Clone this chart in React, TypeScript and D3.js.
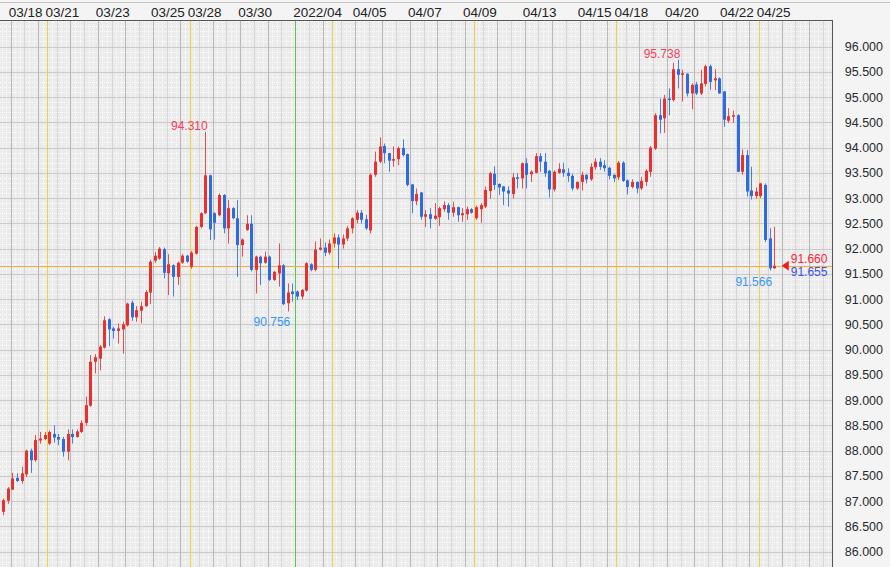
import * as d3 from 'd3';
import React, { FC, useEffect, useRef } from 'react';

// 4-hour candles, one slot per candle (31 slots per trading week)
const opens = [
  86.79, 87.01, 87.23, 87.46, 87.4, 87.53, 88.0, 87.81, 88.2, 88.23,
  88.14, 88.33, 88.27, 88.23, 87.98, 88.33, 88.27, 88.37, 88.55, 88.89,
  89.76, 89.82, 90.04, 90.6, 90.42, 90.37, 90.4, 90.48, 90.93, 90.64,
  90.77, 90.86, 91.13, 91.76, 91.8, 91.99, 91.51, 91.67, 91.44, 91.72,
  91.86, 91.64, 91.9, 92.43, 92.7, 93.45, 92.7, 92.66, 93.06, 92.4,
  92.8, 92.6, 92.07, 92.37, 92.49, 91.58, 91.84, 91.72, 91.84, 91.38,
  91.51, 91.67, 90.92, 91.15, 91.15, 91.05, 91.17, 91.69, 91.58, 91.98,
  92.02, 91.92, 92.1, 92.22, 92.08, 92.2, 92.4, 92.57, 92.71, 92.58,
  92.36, 93.46, 93.72, 94.03, 93.89, 93.74, 93.77, 93.99, 93.87, 93.27,
  92.94, 93.11, 92.63, 92.68, 92.59, 92.62, 92.78, 92.86, 92.71, 92.82,
  92.66, 92.68, 92.78, 92.6, 92.78, 92.83, 93.14, 93.48, 93.28, 93.23,
  93.15, 93.08, 93.41, 93.39, 93.69, 93.47, 93.5, 93.83, 93.72, 93.54,
  93.17, 93.5, 93.57, 93.5, 93.44, 93.19, 93.32, 93.46, 93.37, 93.61,
  93.72, 93.65, 93.6, 93.46, 93.41, 93.7, 93.35, 93.22, 93.32, 93.19,
  93.32, 93.52, 93.98, 94.64, 94.58, 94.97, 94.94, 95.55, 95.44, 95.46,
  95.07, 95.25, 95.07, 95.26, 95.61, 95.33, 95.37, 95.11, 94.53, 94.61,
  94.64, 93.52, 93.85, 93.15, 93.04, 93.04, 93.26, 92.2, 91.61
];
const highs = [
  87.05, 87.28, 87.56, 87.55, 87.68, 88.02, 88.04, 88.31, 88.37, 88.37,
  88.4, 88.5, 88.33, 88.27, 88.42, 88.42, 88.42, 88.6, 89.07, 89.89,
  89.91, 90.09, 90.66, 90.62, 90.45, 90.52, 90.55, 90.93, 90.97, 90.86,
  90.95, 91.18, 91.78, 91.93, 92.03, 92.02, 91.89, 91.69, 91.74, 91.89,
  91.88, 91.95, 92.45, 92.72, 94.31, 93.46, 92.72, 93.09, 93.08, 92.96,
  92.82, 92.96, 92.2, 92.66, 92.66, 91.86, 91.86, 91.94, 91.86, 91.56,
  92.1, 91.69, 91.31, 91.31, 91.17, 91.2, 91.73, 91.71, 92.14, 92.2,
  92.12, 92.18, 92.3, 92.28, 92.28, 92.45, 92.62, 92.76, 92.76, 92.67,
  93.49, 93.92, 94.2, 94.08, 93.89, 94.02, 94.02, 94.16, 93.88, 93.28,
  93.19, 93.12, 92.76, 92.8, 92.9, 92.83, 92.93, 92.9, 92.93, 92.83,
  92.8, 92.83, 92.8, 92.85, 92.9, 93.23, 93.52, 93.63, 93.29, 93.24,
  93.23, 93.49, 93.49, 93.7, 93.79, 93.55, 93.89, 93.89, 93.89, 93.56,
  93.55, 93.69, 93.7, 93.59, 93.48, 93.33, 93.52, 93.47, 93.69, 93.79,
  93.79, 93.75, 93.62, 93.47, 93.73, 93.73, 93.37, 93.37, 93.33, 93.42,
  93.57, 94.03, 94.68, 94.97, 95.04, 95.17, 95.68, 95.738, 95.54, 95.47,
  95.27, 95.3, 95.54, 95.64, 95.64, 95.55, 95.39, 95.12, 94.78, 94.73,
  94.66, 93.96, 93.95, 93.62, 93.21, 93.3, 93.29, 92.4, 92.43
];
const lows = [
  86.72, 86.95, 87.22, 87.38, 87.35, 87.48, 87.56, 87.78, 88.14, 88.21,
  88.11, 88.16, 88.11, 87.88, 87.81, 88.14, 88.26, 88.35, 88.5, 88.87,
  89.53, 89.59, 90.02, 90.07, 90.22, 90.12, 89.92, 90.46, 90.57, 90.55,
  90.52, 90.85, 90.9, 91.72, 91.78, 91.41, 91.08, 91.05, 91.28, 91.7,
  91.72, 91.6, 91.88, 92.4, 92.68, 92.17, 92.18, 92.64, 92.3, 92.1,
  92.58, 91.44, 91.84, 92.35, 91.55, 91.11, 91.28, 91.7, 91.36, 91.36,
  91.25, 90.88, 90.756, 90.95, 90.98, 91.0, 91.15, 91.55, 91.55, 91.96,
  91.85, 91.88, 92.02, 91.6, 92.0, 92.15, 92.3, 92.5, 92.5, 92.37,
  92.3, 93.42, 93.69, 93.69, 93.52, 93.62, 93.65, 93.82, 93.23, 92.7,
  92.86, 92.57, 92.43, 92.4, 92.57, 92.45, 92.73, 92.57, 92.63, 92.53,
  92.53, 92.57, 92.69, 92.57, 92.51, 92.8, 92.99, 93.16, 93.06, 92.86,
  92.83, 92.99, 93.19, 93.19, 93.19, 93.32, 93.49, 93.52, 93.42, 93.01,
  93.13, 93.48, 93.42, 93.32, 93.15, 93.16, 93.15, 93.29, 93.34, 93.56,
  93.56, 93.52, 93.37, 93.32, 93.36, 93.32, 93.07, 93.19, 93.09, 93.16,
  93.24, 93.42, 93.95, 94.28, 94.29, 94.64, 94.91, 95.17, 94.91, 95.01,
  94.76, 95.04, 95.04, 95.21, 95.14, 95.14, 95.07, 94.41, 94.49, 94.49,
  93.52, 93.46, 93.03, 92.97, 92.99, 93.0, 92.13, 91.566, 91.6
];
const closes = [
  87.02, 87.25, 87.45, 87.4, 87.55, 88.0, 87.81, 88.21, 88.24, 88.31,
  88.37, 88.26, 88.22, 87.98, 88.33, 88.27, 88.38, 88.55, 88.9, 89.76,
  89.85, 90.06, 90.58, 90.4, 90.37, 90.42, 90.5, 90.91, 90.64, 90.78,
  90.86, 91.14, 91.74, 91.86, 92.0, 91.52, 91.69, 91.44, 91.72, 91.86,
  91.74, 91.92, 92.43, 92.7, 93.45, 92.38, 92.51, 93.06, 92.4, 92.8,
  92.6, 92.07, 92.18, 92.49, 91.58, 91.84, 91.71, 91.84, 91.38, 91.54,
  91.67, 90.9, 91.13, 91.1, 91.05, 91.18, 91.71, 91.58, 91.98, 92.02,
  91.92, 92.1, 92.22, 92.08, 92.2, 92.4, 92.6, 92.71, 92.57, 92.4,
  93.46, 93.72, 94.02, 93.89, 93.74, 93.77, 93.99, 93.85, 93.26, 92.94,
  93.08, 92.63, 92.68, 92.59, 92.65, 92.8, 92.86, 92.71, 92.82, 92.66,
  92.7, 92.78, 92.71, 92.82, 92.86, 93.16, 93.49, 93.26, 93.21, 93.13,
  93.09, 93.41, 93.38, 93.69, 93.46, 93.52, 93.83, 93.72, 93.49, 93.17,
  93.52, 93.58, 93.5, 93.44, 93.19, 93.32, 93.46, 93.37, 93.62, 93.72,
  93.62, 93.59, 93.44, 93.39, 93.7, 93.34, 93.22, 93.32, 93.19, 93.34,
  93.54, 94.0, 94.64, 94.55, 94.97, 94.94, 95.55, 95.44, 95.47, 95.07,
  95.24, 95.07, 95.27, 95.61, 95.3, 95.37, 95.07, 94.55, 94.62, 94.64,
  93.52, 93.85, 93.13, 93.04, 93.13, 93.29, 92.17, 91.61, 91.66
];

const dateLabels = [
  '03/18', '03/21', '03/23', '03/25', '03/28', '03/30', '2022/04', '04/05',
  '04/07', '04/09', '04/13', '04/15', '04/18', '04/20', '04/22', '04/25'
];
const dateSlots = [2, 10, 21, 33, 41, 52, 64, 77, 89, 101, 114, 126, 134, 145, 157, 165];
const weekSlots = [10, 41, 72, 103, 134, 165];
const monthSlots = [64];
const priceTicks = [
  86, 86.5, 87, 87.5, 88, 88.5, 89, 89.5, 90, 90.5, 91,
  91.5, 92, 92.5, 93, 93.5, 94, 94.5, 95, 95.5, 96
];
const highMarks = [44, 147];
const lowMarks = [62, 167];
const askPrice = 91.66;
const bidPrice = 91.655;

const FONT = '"Liberation Sans", Arial, sans-serif';

const CandleChart: FC = (): JSX.Element => {
  const ref = useRef<SVGSVGElement>(null);

  const createChart = () => {
    const width = 890;
    const height = 567;
    const plotRight = 832;
    const plotTop = 20;

    const svg = d3.select(ref.current);
    svg.selectAll('*').remove();

    const x = d3.scaleLinear().domain([0, 181]).range([1.5, 832.1]);
    const y = d3.scaleLinear().domain([86, 96]).range([551.7, 46.5]);
    const cx = (i: number) => x(i + 0.5);
    const px = (d: number) => Math.round(x(d)) + 0.5;

    svg.append('rect').attr('width', width).attr('height', height).attr('fill', '#f4f4f4');
    svg
      .append('line')
      .attr('x1', 0)
      .attr('x2', width)
      .attr('y1', 2.5)
      .attr('y2', 2.5)
      .attr('stroke', '#c4c4c4');

    svg
      .append('defs')
      .append('clipPath')
      .attr('id', 'plot-clip')
      .append('rect')
      .attr('x', 0)
      .attr('y', plotTop)
      .attr('width', plotRight)
      .attr('height', height - plotTop);

    const g = svg.append('g').attr('clip-path', 'url(#plot-clip)');
    g.append('rect')
      .attr('x', 0)
      .attr('y', plotTop)
      .attr('width', plotRight)
      .attr('height', height - plotTop)
      .attr('fill', '#ebebeb');

    const vLines = (cls: string, data: number[], color: string) =>
      g
        .selectAll(`line.${cls}`)
        .data(data)
        .enter()
        .append('line')
        .attr('class', cls)
        .attr('x1', px)
        .attr('x2', px)
        .attr('y1', plotTop)
        .attr('y2', height)
        .attr('stroke', color);

    const hLines = (cls: string, data: number[], color: string) =>
      g
        .selectAll(`line.${cls}`)
        .data(data)
        .enter()
        .append('line')
        .attr('class', cls)
        .attr('x1', 0)
        .attr('x2', plotRight)
        .attr('y1', (d) => Math.round(y(d)) + 0.5)
        .attr('y2', (d) => Math.round(y(d)) + 0.5)
        .attr('stroke', color);

    // fine dotted grid
    const [yLo, yHi] = [y.invert(height), y.invert(plotTop)];
    vLines('minor-v', d3.range(0, 182), '#fbfbfb').attr('stroke-dasharray', '1,1');
    hLines(
      'minor-h',
      d3.range(Math.ceil(yLo * 10), Math.floor(yHi * 10) + 1).map((d) => d / 10),
      '#fbfbfb'
    ).attr('stroke-dasharray', '1,1');

    // day and half-day separators derived from the week starts
    const weeks = [weekSlots[0] - 31, ...weekSlots];
    const daySlots: number[] = [];
    const halfSlots: number[] = [];
    weeks.forEach((w) => {
      [5, 11, 17, 23, 29].forEach((o) => daySlots.push(w + o));
      [2, 8, 14, 20, 26].forEach((o) => halfSlots.push(w + o));
    });
    const inRange = (d: number) => d >= 0 && d <= 181 && !monthSlots.includes(d);

    vLines('half', halfSlots.filter(inRange), '#d6d6d6');
    hLines('major-h', priceTicks, '#cbcbcb');
    vLines('day', daySlots.filter(inRange), '#b9b9b9');
    vLines('week', weekSlots, '#ebd444');
    vLines('month', monthSlots, '#58c458');

    // current price line
    hLines('last', [askPrice], '#f5ad4a');

    const up = '#e8302f';
    const down = '#2c6be0';
    const candles = g
      .selectAll('g.candle')
      .data(d3.range(opens.length))
      .enter()
      .append('g')
      .attr('class', 'candle');

    candles
      .append('line')
      .attr('x1', (i) => Math.round(cx(i) - 1.5) + 1.5)
      .attr('x2', (i) => Math.round(cx(i) - 1.5) + 1.5)
      .attr('y1', (i) => y(highs[i]))
      .attr('y2', (i) => y(lows[i]))
      .attr('stroke', (i) => (closes[i] >= opens[i] ? up : down))
      .attr('stroke-opacity', 0.85);

    candles
      .append('rect')
      .attr('x', (i) => Math.round(cx(i) - 1.5))
      .attr('width', 3)
      .attr('y', (i) => y(Math.max(opens[i], closes[i])))
      .attr('height', (i) => Math.max(1, Math.abs(y(opens[i]) - y(closes[i]))))
      .attr('fill', (i) => (closes[i] >= opens[i] ? up : down));

    // high / low markers
    g.selectAll('text.hi')
      .data(highMarks)
      .enter()
      .append('text')
      .attr('class', 'hi')
      .attr('x', (i) => cx(i) + 2)
      .attr('y', (i) => y(highs[i]) - 2)
      .attr('text-anchor', 'end')
      .attr('font-family', FONT)
      .attr('font-size', 12)
      .attr('fill', '#f2405a')
      .text((i) => highs[i].toFixed(3));

    g.selectAll('text.lo')
      .data(lowMarks)
      .enter()
      .append('text')
      .attr('class', 'lo')
      .attr('x', (i) => cx(i) + 2)
      .attr('y', (i) => y(lows[i]) + 15)
      .attr('text-anchor', 'end')
      .attr('font-family', FONT)
      .attr('font-size', 12)
      .attr('fill', '#3597f0')
      .text((i) => lows[i].toFixed(3));

    // current price marker
    const last = opens.length - 1;
    const tipX = cx(last) + 7;
    const py = y(askPrice);
    g.append('path')
      .attr('d', `M${tipX},${py} L${tipX + 7},${py - 5} L${tipX + 7},${py + 5} Z`)
      .attr('fill', '#f01c1c');
    g.append('text')
      .attr('x', tipX + 9)
      .attr('y', py - 3)
      .attr('font-family', FONT)
      .attr('font-size', 12)
      .attr('fill', '#f2283a')
      .text(askPrice.toFixed(3));
    g.append('text')
      .attr('x', tipX + 9)
      .attr('y', py + 10)
      .attr('font-family', FONT)
      .attr('font-size', 12)
      .attr('fill', '#3a52e6')
      .text(bidPrice.toFixed(3));

    // frame
    svg
      .append('line')
      .attr('x1', 0)
      .attr('x2', plotRight + 1)
      .attr('y1', plotTop + 0.5)
      .attr('y2', plotTop + 0.5)
      .attr('stroke', '#555');
    svg
      .append('line')
      .attr('x1', plotRight + 0.5)
      .attr('x2', plotRight + 0.5)
      .attr('y1', plotTop)
      .attr('y2', height)
      .attr('stroke', '#555');

    // date axis
    svg
      .selectAll('text.date')
      .data(dateLabels)
      .enter()
      .append('text')
      .attr('class', 'date')
      .attr('x', (d, i) => x(dateSlots[i]) - 2)
      .attr('y', 16.5)
      .attr('font-family', FONT)
      .attr('font-size', 13.5)
      .attr('fill', '#222')
      .text((d) => d);

    // price axis
    svg
      .selectAll('text.price')
      .data(priceTicks)
      .enter()
      .append('text')
      .attr('class', 'price')
      .attr('x', 883)
      .attr('y', (d) => y(d) + 4.5)
      .attr('text-anchor', 'end')
      .attr('font-family', FONT)
      .attr('font-size', 12.5)
      .attr('fill', '#2a2a2a')
      .text((d) => d.toFixed(3));
  };

  useEffect(() => {
    createChart();
  }, []);

  return (
    <svg
      ref={ref}
      width={890}
      height={567}
      style={{ position: 'absolute', left: 0, top: 0, display: 'block' }}
    />
  );
};

const App: FC = (): JSX.Element => <CandleChart />;

export default App;
